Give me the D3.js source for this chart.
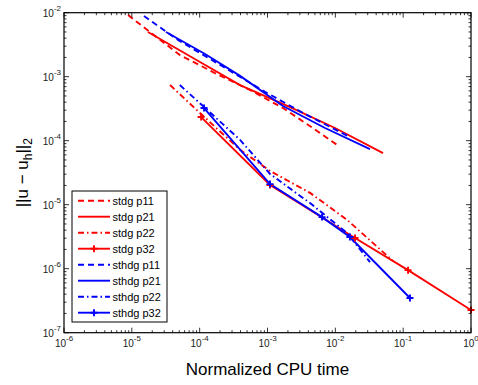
<!DOCTYPE html>
<html>
<head>
<meta charset="utf-8">
<script src="https://cdn.jsdelivr.net/npm/d3@7"></script>
<style>
  body { margin: 0; background: #fff; }
  svg { font-family: Arial, "Liberation Sans", Helvetica, sans-serif; }
</style>
</head>
<body>
<div id="chart"></div>
<script>
// convergence data (log-log)
const seriesNames = ['stdg p11', 'stdg p21', 'stdg p22', 'stdg p32',
                     'sthdg p11', 'sthdg p21', 'sthdg p22', 'sthdg p32'];

const stdgP11x = [8.8e-6, 1.85e-5, 5.1e-5, 1.68e-4, 5.5e-4, 1.69e-3, 4.2e-3, 1.06e-2];
const stdgP11y = [9.2e-3, 4.99e-3, 2.18e-3, 1.14e-3, 6.2e-4, 3.24e-4, 1.70e-4, 8.6e-5];

const stdgP21x = [1.73e-5, 1.01e-4, 3.94e-4, 2.15e-3, 9.9e-3, 5.05e-2];
const stdgP21y = [4.99e-3, 1.70e-3, 7.4e-4, 3.36e-4, 1.58e-4, 6.4e-5];

const stdgP22x = [3.66e-5, 1.01e-4, 3.94e-4, 1.09e-3, 4.24e-3, 1.49e-2, 7.08e-2];
const stdgP22y = [7.4e-4, 2.71e-4, 7.2e-5, 3.37e-5, 1.53e-5, 5.8e-6, 1.32e-6];

const stdgP32x = [1.05e-4, 1.09e-3, 1.95e-2, 0.118, 1.0];
const stdgP32y = [2.34e-4, 2.03e-5, 3.02e-6, 9.5e-7, 2.26e-7];

const sthdgP11x = [1.51e-5, 4.8e-5, 2.13e-4, 9.2e-4, 3.57e-3, 1.54e-2];
const sthdgP11y = [8.9e-3, 3.74e-3, 1.47e-3, 5.8e-4, 2.61e-4, 1.18e-4];

const sthdgP21x = [3.19e-5, 1.20e-4, 3.94e-4, 1.69e-3, 7.05e-3, 3.24e-2];
const sthdgP21y = [4.99e-3, 2.26e-3, 1.03e-3, 3.48e-4, 1.58e-4, 7.4e-5];

const sthdgP22x = [5.1e-5, 1.12e-4, 3.94e-4, 1.09e-3, 4.24e-3, 1.49e-2, 3.24e-2];
const sthdgP22y = [7.4e-4, 3.48e-4, 1.03e-4, 3.02e-5, 1.06e-5, 3.61e-6, 1.27e-6];

const sthdgP32x = [1.16e-4, 1.09e-3, 6.37e-3, 1.64e-2, 0.126];
const sthdgP32y = [3.24e-4, 2.1e-5, 6.4e-6, 3.13e-6, 3.48e-7];

const xTickExp = [-6, -5, -4, -3, -2, -1, 0];
const yTickExp = [-7, -6, -5, -4, -3, -2];

const xs = [stdgP11x, stdgP21x, stdgP22x, stdgP32x, sthdgP11x, sthdgP21x, sthdgP22x, sthdgP32x];
const ys = [stdgP11y, stdgP21y, stdgP22y, stdgP32y, sthdgP11y, sthdgP21y, sthdgP22y, sthdgP32y];

const styles = [
  { color: '#ff0000', dash: '6,4', marker: false },
  { color: '#ff0000', dash: null, marker: false },
  { color: '#ff0000', dash: '6,3,1.5,3', marker: false },
  { color: '#ff0000', dash: null, marker: true },
  { color: '#0000ff', dash: '6,4', marker: false },
  { color: '#0000ff', dash: null, marker: false },
  { color: '#0000ff', dash: '6,3,1.5,3', marker: false },
  { color: '#0000ff', dash: null, marker: true }
];

const series = seriesNames.map((name, i) => ({
  name: name,
  style: styles[i],
  points: xs[i].map((x, j) => ({ x: x, y: ys[i][j] }))
}));

const width = 478, height = 385;
const mLeft = 64, mRight = 471, mTop = 12.7, mBottom = 332.7;

const svg = d3.select('#chart').append('svg')
  .attr('width', width)
  .attr('height', height);

const x = d3.scaleLog().domain([1e-6, 1]).range([mLeft, mRight]);
const y = d3.scaleLog().domain([1e-7, 1e-2]).range([mBottom, mTop]);

// clip for the data lines
svg.append('clipPath').attr('id', 'clip')
  .append('rect')
  .attr('x', mLeft).attr('y', mTop)
  .attr('width', mRight - mLeft).attr('height', mBottom - mTop);

const plot = svg.append('g').attr('clip-path', 'url(#clip)');

const line = d3.line()
  .x(d => x(d.x))
  .y(d => y(d.y));

series.forEach(s => {
  plot.append('path')
    .datum(s.points)
    .attr('fill', 'none')
    .attr('stroke', s.style.color)
    .attr('stroke-width', 1.9)
    .attr('stroke-dasharray', s.style.dash)
    .attr('d', line);
});

// plus markers, not clipped so the one at x = 1 shows fully
const plusPath = 'M-3.5,0H3.5M0,-3.5V3.5';
series.filter(s => s.style.marker).forEach(s => {
  svg.append('g').selectAll('path')
    .data(s.points)
    .enter()
    .append('path')
    .attr('transform', d => `translate(${x(d.x)},${y(d.y)})`)
    .attr('d', plusPath)
    .attr('stroke', s.style.color)
    .attr('stroke-width', 1.9)
    .attr('fill', 'none');
});

// ticks (inward, on all four sides, MATLAB style)
const axes = svg.append('g').attr('stroke', '#000').attr('stroke-width', 0.8);
const minors = (lo, hi) => {
  const out = [];
  for (let e = lo; e < hi; e++) {
    for (let m = 2; m <= 9; m++) out.push(m * Math.pow(10, e));
  }
  return out;
};

xTickExp.forEach(e => {
  const px = x(Math.pow(10, e));
  axes.append('line').attr('x1', px).attr('x2', px).attr('y1', mBottom).attr('y2', mBottom - 5);
  axes.append('line').attr('x1', px).attr('x2', px).attr('y1', mTop).attr('y2', mTop + 5);
});
minors(-6, 0).forEach(v => {
  const px = x(v);
  axes.append('line').attr('x1', px).attr('x2', px).attr('y1', mBottom).attr('y2', mBottom - 2.5);
  axes.append('line').attr('x1', px).attr('x2', px).attr('y1', mTop).attr('y2', mTop + 2.5);
});
yTickExp.forEach(e => {
  const py = y(Math.pow(10, e));
  axes.append('line').attr('y1', py).attr('y2', py).attr('x1', mLeft).attr('x2', mLeft + 5);
  axes.append('line').attr('y1', py).attr('y2', py).attr('x1', mRight).attr('x2', mRight - 5);
});
minors(-7, -2).forEach(v => {
  const py = y(v);
  axes.append('line').attr('y1', py).attr('y2', py).attr('x1', mLeft).attr('x2', mLeft + 2.5);
  axes.append('line').attr('y1', py).attr('y2', py).attr('x1', mRight).attr('x2', mRight - 2.5);
});

svg.append('rect')
  .attr('x', mLeft).attr('y', mTop)
  .attr('width', mRight - mLeft).attr('height', mBottom - mTop)
  .attr('fill', 'none')
  .attr('stroke', '#000')
  .attr('stroke-width', 1.2);

// tick labels
const xLabels = svg.append('g').selectAll('text')
  .data(xTickExp)
  .enter()
  .append('text')
  .attr('x', d => x(Math.pow(10, d)))
  .attr('y', 347)
  .attr('text-anchor', 'middle')
  .style('font-size', '10px')
  .attr('fill', '#222');
xLabels.append('tspan').text('10');
xLabels.append('tspan').attr('dy', -6).style('font-size', '8px').text(d => `${d}`);

const yLabels = svg.append('g').selectAll('text')
  .data(yTickExp)
  .enter()
  .append('text')
  .attr('x', 61)
  .attr('y', d => y(Math.pow(10, d)) + 4)
  .attr('text-anchor', 'end')
  .style('font-size', '10px')
  .attr('fill', '#222');
yLabels.append('tspan').text('10');
yLabels.append('tspan').attr('dy', -6).style('font-size', '8px').text(d => `${d}`);

// axis titles
svg.append('text')
  .attr('x', (mLeft + mRight) / 2)
  .attr('y', 375)
  .attr('text-anchor', 'middle')
  .style('font-size', '17px')
  .text('Normalized CPU time');

const yTitle = svg.append('text')
  .attr('transform', `translate(28,${(mTop + mBottom) / 2}) rotate(-90)`)
  .attr('text-anchor', 'middle')
  .style('font-size', '17px');
yTitle.append('tspan').text('||u \u2212 u');
yTitle.append('tspan').attr('dy', 4).style('font-size', '12px').text('h');
yTitle.append('tspan').attr('dy', -4).text('||');
yTitle.append('tspan').attr('dy', 4).style('font-size', '12px').text('2');

// legend
const legend = svg.append('g');
legend.append('rect')
  .attr('x', 72).attr('y', 191)
  .attr('width', 95).attr('height', 131)
  .attr('fill', '#fff')
  .attr('stroke', '#000')
  .attr('stroke-width', 1);

const rows = legend.selectAll('g.row')
  .data(series)
  .enter()
  .append('g')
  .attr('class', 'row')
  .attr('transform', (d, i) => `translate(0,${200.7 + i * 16})`);

rows.append('line')
  .attr('x1', 78).attr('x2', 110)
  .attr('y1', 0).attr('y2', 0)
  .attr('stroke', d => d.style.color)
  .attr('stroke-width', 1.9)
  .attr('stroke-dasharray', d => d.style.dash);

rows.filter(d => d.style.marker)
  .append('path')
  .attr('transform', 'translate(94,0)')
  .attr('d', plusPath)
  .attr('stroke', d => d.style.color)
  .attr('stroke-width', 1.9);

rows.append('text')
  .attr('x', 112.5)
  .attr('y', 4)
  .style('font-size', '11px')
  .text(d => d.name);
</script>
</body>
</html>
